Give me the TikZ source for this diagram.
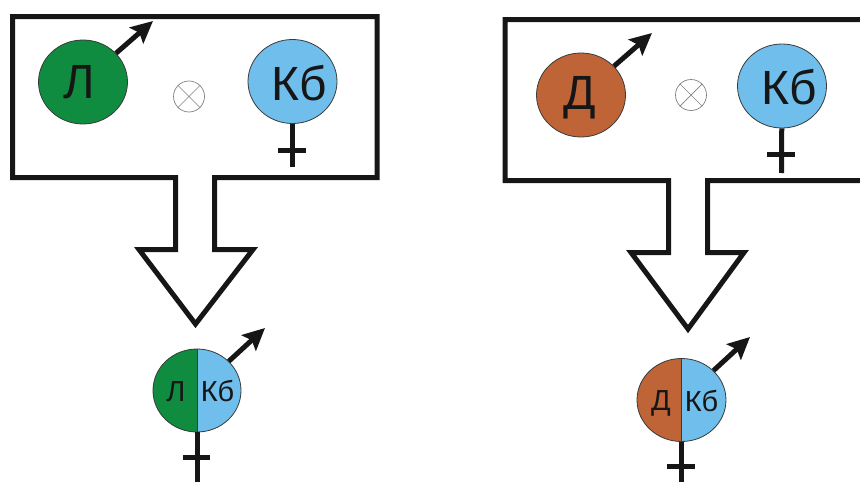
\documentclass[tikz,border=0pt]{standalone}
\usepackage{fontspec}
\setmainfont{Liberation Sans}
\usetikzlibrary{shapes.geometric,arrows.meta}
\definecolor{ink}{HTML}{161616}
\definecolor{rim}{HTML}{3A3A3A}
\definecolor{lgreen}{HTML}{108C40}
\definecolor{lblue}{HTML}{6FBEEB}
\definecolor{lbrown}{HTML}{BE6437}
\definecolor{ringgray}{HTML}{808080}
\begin{document}
\begin{tikzpicture}[x=1pt,y=-1pt,
  outline/.style={line width=5pt, draw=ink, line join=miter, miter limit=20},
  cell/.style={ellipse, draw=rim, line width=0.8pt, minimum width=89pt, minimum height=84pt, inner sep=0pt},
  bigtxt/.style={font=\fontsize{48}{48}\selectfont, text=ink, anchor=base, inner sep=0pt},
  smalltxt/.style={font=\fontsize{29}{29}\selectfont, text=ink, anchor=base, inner sep=0pt},
  malearrow/.style={line width=5pt, draw=ink, -{Stealth[length=22pt,width=21pt,inset=4pt]}},
  femaleline/.style={line width=5pt, draw=ink},
  ring/.style={circle, draw=ringgray, line width=0.7pt, minimum size=31pt, inner sep=0pt},
  ringx/.style={draw=ringgray, line width=0.7pt}]
\useasboundingbox (0,0) rectangle (860,482);
\begin{scope}
\clip (0,0) rectangle (860,482);

% ---------- left panel ----------
\draw[outline] (175.5,177.5) -- (12.5,177.5) -- (12.5,16.5) -- (377,16.5) -- (377,177.5)
  -- (214.5,177.5) -- (214.5,249.5) -- (253,249.5) -- (195.5,324) -- (139,249.5)
  -- (175.5,249.5) -- cycle;

\node[cell, fill=lgreen] (L1) at (83,82) {};
\coordinate (L1tip) at (153,21);
\draw[malearrow] (L1) -- (L1tip);
\node[bigtxt] (tL1) at (79,98) {Л};

\node[ring] (X1) at (189,96.5) {};
\draw[ringx] (X1.north east) -- (X1.south west) (X1.north west) -- (X1.south east);

\coordinate (K1end) at (292.5,167);
\coordinate (K1a) at (278,150);
\coordinate (K1b) at (306,150);
\node[cell, fill=lblue] (K1) at (292.5,81.5) {};
\draw[femaleline] (K1) -- (K1end);
\draw[femaleline] (K1a) -- (K1b);
\node[bigtxt] (tK1) at (299,100.5) {Кб};

% bottom-left hybrid
\begin{scope}
\clip (197,340) rectangle (250,440);
\fill[lblue] (197,390.5) ellipse [x radius=44pt, y radius=41.5pt];
\end{scope}
\begin{scope}
\clip (140,340) rectangle (197,440);
\fill[lgreen] (197,390.5) ellipse [x radius=44pt, y radius=41.5pt];
\end{scope}
\node[cell, minimum width=88pt, minimum height=83pt] (H1) at (197,390.5) {};
\draw[rim, line width=0.8pt] (H1.north) -- (H1.south);
\coordinate (H1tip) at (265,328);
\draw[malearrow] (H1) -- (H1tip);
\coordinate (H1end) at (197,490);
\coordinate (H1a) at (183,457);
\coordinate (H1b) at (210,457);
\draw[femaleline] (H1) -- (H1end);
\draw[femaleline] (H1a) -- (H1b);
\node[smalltxt] (tH1a) at (176,401) {Л};
\node[smalltxt] (tH1b) at (217.5,401) {Кб};

% ---------- right panel ----------
\draw[outline] (668.5,180.5) -- (505,180.5) -- (505,19.5) -- (875,19.5) -- (875,180.5)
  -- (707.5,180.5) -- (707.5,252.5) -- (744,252.5) -- (688,329) -- (631,252.5)
  -- (668.5,252.5) -- cycle;

\node[cell, fill=lbrown] (D2) at (581,95) {};
\coordinate (D2tip) at (652,33);
\draw[malearrow] (D2) -- (D2tip);
\node[bigtxt] (tD2) at (580,109) {Д};

\node[ring] (X2) at (691,95) {};
\draw[ringx] (X2.north east) -- (X2.south west) (X2.north west) -- (X2.south east);

\coordinate (K2end) at (781.5,173);
\coordinate (K2a) at (767,154);
\coordinate (K2b) at (795,154);
\node[cell, fill=lblue] (K2) at (782,86) {};
\draw[femaleline] (K2) -- (K2end);
\draw[femaleline] (K2a) -- (K2b);
\node[bigtxt] (tK2) at (789,104) {Кб};

% bottom-right hybrid
\begin{scope}
\clip (681.5,350) rectangle (735,450);
\fill[lblue] (681.5,400) ellipse [x radius=44.5pt, y radius=41.5pt];
\end{scope}
\begin{scope}
\clip (630,350) rectangle (681.5,450);
\fill[lbrown] (681.5,400) ellipse [x radius=44.5pt, y radius=41.5pt];
\end{scope}
\node[cell, minimum width=89pt, minimum height=83pt] (H2) at (681.5,400) {};
\draw[rim, line width=0.8pt] (H2.north) -- (H2.south);
\coordinate (H2tip) at (750,337);
\draw[malearrow] (H2) -- (H2tip);
\coordinate (H2end) at (681.5,495);
\coordinate (H2a) at (667,466.5);
\coordinate (H2b) at (695,466.5);
\draw[femaleline] (H2) -- (H2end);
\draw[femaleline] (H2a) -- (H2b);
\node[smalltxt] (tH2a) at (661,410) {Д};
\node[smalltxt] (tH2b) at (701.5,411) {Кб};
\end{scope}
\end{tikzpicture}
\end{document}
